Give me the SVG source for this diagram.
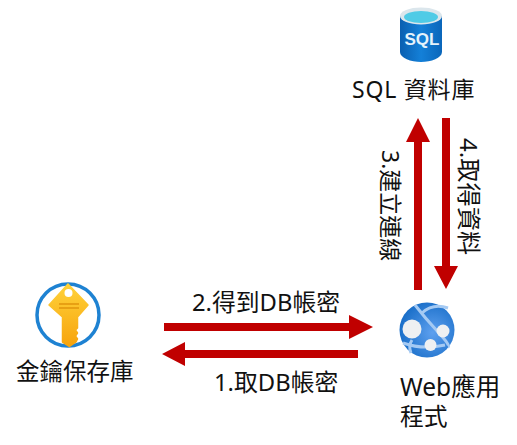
<svg xmlns="http://www.w3.org/2000/svg" width="517" height="445" viewBox="0 0 517 445">
<style>
text{font-family:"Noto Sans","Noto Sans CJK TC",sans-serif;fill:#111;font-size:23.8px}
.arrow{fill:#c00000}
</style>
<defs>
<linearGradient id="sqlBody" x1="0" x2="1" y1="0" y2="0"><stop offset="0" stop-color="#0a5fb0"/><stop offset="0.5" stop-color="#1480d8"/><stop offset="1" stop-color="#0a66ba"/></linearGradient>
<linearGradient id="keyFill" x1="0" x2="0" y1="0" y2="1"><stop offset="0" stop-color="#ffd23a"/><stop offset="1" stop-color="#f7a30c"/></linearGradient>
<radialGradient id="globe" cx="0.6" cy="0.55" r="0.6"><stop offset="0" stop-color="#5ea0ef"/><stop offset="1" stop-color="#1a6fc9"/></radialGradient>
</defs>
<g id="sql-database">
<path d="M400 16V52C400 58 411 62 421 62C431 62 442 58 442 52V16Z" fill="url(#sqlBody)"/>
<ellipse cx="421" cy="16" rx="21" ry="8.500" fill="#dbe6ec"/>
<ellipse cx="421" cy="17" rx="17" ry="6" fill="#4fcbe6"/>
<text x="422" y="45" text-anchor="middle" style="font-family:'Liberation Sans',sans-serif;font-size:17px;font-weight:700;fill:#e6f3fb">SQL</text>
<text x="352" y="98" style="font-size:23px;letter-spacing:.8px">SQL 資料庫</text>
</g>
<g id="key-vault">
<circle cx="68" cy="315" r="31" fill="#fff" stroke="#1e82d2" stroke-width="3.500"/>
<path d="M68 284L88 305L77.500 317V328L75.500 330L77.500 333L75.500 336L77.500 339L76 342L69.500 346.500L62.500 342V317L49 305Z" fill="url(#keyFill)" stroke="url(#keyFill)" stroke-width="1.500" stroke-linejoin="round"/>
<circle cx="68.500" cy="293" r="4" fill="#fff"/>
<path d="M59 304H79M59 308H79" stroke="#e8a013" stroke-width="1.800"/>
<text x="16" y="380" style="font-size:23.500px">金鑰保存庫</text>
</g>
<g id="web-app">
<circle cx="427" cy="330" r="27.500" fill="url(#globe)"/>
<path d="M415 305Q425 318 438 332T448 347M422 313Q433 303 448 308M403 343Q423 350 445 345M412 340Q408 346 411 353" fill="none" stroke="#a5caf3" stroke-width="3"/>
<circle cx="412" cy="329" r="9.500" fill="#eef0f2"/>
<circle cx="443" cy="331" r="6.500" fill="#eef0f2"/>
<circle cx="430.500" cy="345" r="6" fill="#eef0f2"/>
<text x="400" y="396" style="font-size:24.500px">Web應用</text>
<text x="400" y="425">程式</text>
</g>
<g id="connectors">
<polygon class="arrow" points="164,323 349,323 349,315 373,327 349,339 349,331 164,331"/>
<polygon class="arrow" points="358,350 185,350 185,342 162,354 185,366 185,358 358,358"/>
<polygon class="arrow" points="414,290 414,142 406,142 418,118 430,142 422,142 422,290"/>
<polygon class="arrow" points="442,118 442,266 434,266 446,289 458,266 450,266 450,118"/>
</g>
<g id="labels">
<text x="192" y="311">2.得到DB帳密</text>
<text x="214" y="391">1.取DB帳密</text>
<text transform="translate(382,150) rotate(90)" style="font-size:23px">3.建立連線</text>
<text transform="translate(460,138) rotate(90)" style="font-size:24.200px">4.取得資料</text>
</g>
</svg>
